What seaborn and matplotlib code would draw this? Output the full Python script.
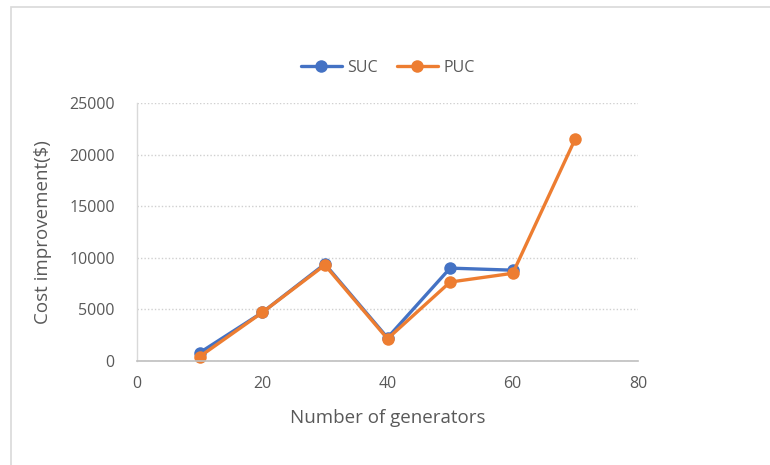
import matplotlib
matplotlib.use("Agg")
import matplotlib.pyplot as plt
from matplotlib.patches import Rectangle
import seaborn as sns
import pandas as pd

# Cost improvement per system size
suc_generators = [10, 20, 30, 40, 50, 60]
suc_cost = [800, 4700, 9400, 2250, 9000, 8800]
puc_generators = [10, 20, 30, 40, 50, 60, 70]
puc_cost = [420, 4700, 9300, 2150, 7650, 8500, 21550]

x_ticks = [0, 20, 40, 60, 80]
y_ticks = [0, 5000, 10000, 15000, 20000, 25000]

df = pd.concat([
    pd.DataFrame({"generators": suc_generators, "cost": suc_cost, "method": "SUC"}),
    pd.DataFrame({"generators": puc_generators, "cost": puc_cost, "method": "PUC"}),
], ignore_index=True)

sns.set_theme(style="white")
plt.rcParams["font.family"] = ["Open Sans", "DejaVu Sans"]

text_color = "#595959"
fig = plt.figure(figsize=(7.7, 4.65), dpi=100)
ax = fig.add_axes([137 / 770, 1 - 361 / 465, 501 / 770, 258 / 465])

palette = {"SUC": "#4472C4", "PUC": "#ED7D31"}
sns.lineplot(data=df, x="generators", y="cost", hue="method", palette=palette,
             marker="o", markersize=9, markeredgewidth=0, linewidth=2.4,
             ax=ax, legend=True, clip_on=False)

ax.set_xlim(0, 80)
ax.set_ylim(0, 25000)
ax.set_xticks(x_ticks)
ax.set_yticks(y_ticks)
ax.tick_params(axis="both", length=0, labelsize=11.5, labelcolor=text_color)
ax.tick_params(axis="y", pad=16)
ax.tick_params(axis="x", pad=11)

ax.yaxis.grid(True, linestyle=(0, (1, 1.5)), color="#D0D0D0", linewidth=1)
ax.xaxis.grid(False)
for side in ["top", "right"]:
    ax.spines[side].set_visible(False)
ax.spines["left"].set_color("#D9D9D9")
ax.spines["left"].set_linewidth(1)
ax.spines["bottom"].set_color("#BFBFBF")
ax.spines["bottom"].set_linewidth(1.2)

ax.set_xlabel("Number of generators", fontsize=13.5, color=text_color, labelpad=12)
ax.set_ylabel("Cost improvement($)", fontsize=13.5, color=text_color, labelpad=12)

handles, labels = ax.get_legend_handles_labels()
leg = ax.legend(handles, labels, loc="center", bbox_to_anchor=(0.5, 1 + (103 - 68) / 258),
                ncol=2, frameon=False, fontsize=11.5, handlelength=2.6,
                columnspacing=1.2, handletextpad=0.3, labelcolor=text_color)

# chart frame
fig.patches.append(Rectangle((11 / 770, -0.1), 1.2, 1 - 7 / 465 + 0.1,
                             transform=fig.transFigure, fill=False,
                             edgecolor="#D9D9D9", linewidth=1.2))

fig.savefig("out.png", dpi=100)
